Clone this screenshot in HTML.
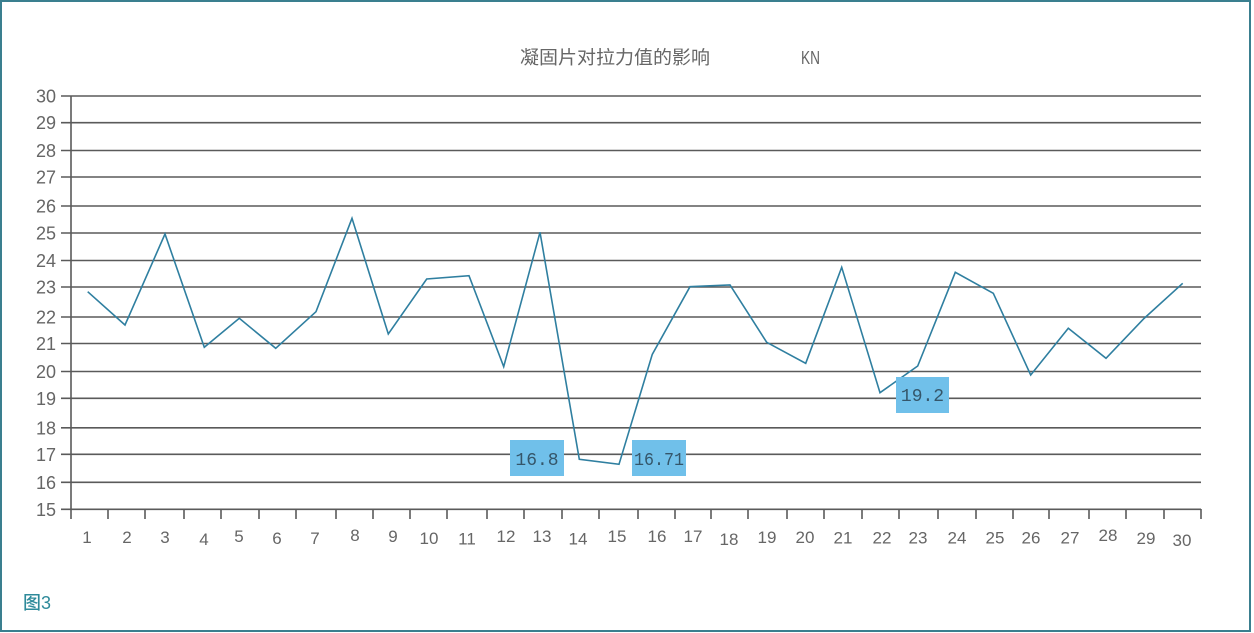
<!DOCTYPE html>
<html>
<head>
<meta charset="utf-8">
<style>
html,body{margin:0;padding:0;background:#fff;}
svg{display:block;}
</style>
</head>
<body>
<svg width="1254" height="633" viewBox="0 0 1254 633" xmlns="http://www.w3.org/2000/svg">
<rect x="0" y="0" width="1254" height="633" fill="#fff"/>
<rect x="1" y="1" width="1249" height="630" fill="none" stroke="#3a7f8f" stroke-width="2"/>

<!-- title -->
<text x="520" y="64" font-family="'Liberation Sans','Noto Sans CJK SC',sans-serif" font-size="18.5" fill="#666" textLength="190" lengthAdjust="spacingAndGlyphs">凝固片对拉力值的影响</text>
<text x="801" y="64" font-family="'Liberation Sans',sans-serif" font-size="18" fill="#666" textLength="19" lengthAdjust="spacingAndGlyphs">KN</text>

<!-- grid lines -->
<g stroke="#5a5a5a" stroke-width="1.6">
<line x1="61" y1="96" x2="1201" y2="96"/>
<line x1="61" y1="122.7" x2="1201" y2="122.7"/>
<line x1="61" y1="150.5" x2="1201" y2="150.5"/>
<line x1="61" y1="177" x2="1201" y2="177"/>
<line x1="61" y1="206" x2="1201" y2="206"/>
<line x1="61" y1="233" x2="1201" y2="233"/>
<line x1="61" y1="260.5" x2="1201" y2="260.5"/>
<line x1="61" y1="287" x2="1201" y2="287"/>
<line x1="61" y1="317" x2="1201" y2="317"/>
<line x1="61" y1="343.5" x2="1201" y2="343.5"/>
<line x1="61" y1="371.5" x2="1201" y2="371.5"/>
<line x1="61" y1="398.3" x2="1201" y2="398.3"/>
<line x1="61" y1="427.8" x2="1201" y2="427.8"/>
<line x1="61" y1="454.3" x2="1201" y2="454.3"/>
<line x1="61" y1="482.3" x2="1201" y2="482.3"/>
<line x1="61" y1="509.3" x2="1201" y2="509.3"/>
<line x1="71" y1="96" x2="71" y2="519"/>
</g>
<!-- x ticks -->
<g stroke="#5a5a5a" stroke-width="1.6">
<line x1="108" y1="509" x2="108" y2="519"/>
<line x1="145" y1="509" x2="145" y2="519"/>
<line x1="184" y1="509" x2="184" y2="519"/>
<line x1="221" y1="509" x2="221" y2="519"/>
<line x1="259" y1="509" x2="259" y2="519"/>
<line x1="296" y1="509" x2="296" y2="519"/>
<line x1="336" y1="509" x2="336" y2="519"/>
<line x1="373" y1="509" x2="373" y2="519"/>
<line x1="410" y1="509" x2="410" y2="519"/>
<line x1="447" y1="509" x2="447" y2="519"/>
<line x1="487" y1="509" x2="487" y2="519"/>
<line x1="524" y1="509" x2="524" y2="519"/>
<line x1="562" y1="509" x2="562" y2="519"/>
<line x1="599" y1="509" x2="599" y2="519"/>
<line x1="638" y1="509" x2="638" y2="519"/>
<line x1="675" y1="509" x2="675" y2="519"/>
<line x1="711" y1="509" x2="711" y2="519"/>
<line x1="748" y1="509" x2="748" y2="519"/>
<line x1="787" y1="509" x2="787" y2="519"/>
<line x1="824" y1="509" x2="824" y2="519"/>
<line x1="862" y1="509" x2="862" y2="519"/>
<line x1="899" y1="509" x2="899" y2="519"/>
<line x1="938" y1="509" x2="938" y2="519"/>
<line x1="976" y1="509" x2="976" y2="519"/>
<line x1="1013" y1="509" x2="1013" y2="519"/>
<line x1="1049" y1="509" x2="1049" y2="519"/>
<line x1="1089" y1="509" x2="1089" y2="519"/>
<line x1="1126" y1="509" x2="1126" y2="519"/>
<line x1="1164" y1="509" x2="1164" y2="519"/>
<line x1="1201" y1="509" x2="1201" y2="519"/>
</g>

<!-- y labels -->
<g font-family="'Liberation Sans',sans-serif" font-size="18" fill="#666" text-anchor="end">
<text x="56" y="102.5">30</text>
<text x="56" y="129.2">29</text>
<text x="56" y="157">28</text>
<text x="56" y="183.5">27</text>
<text x="56" y="212.5">26</text>
<text x="56" y="239.5">25</text>
<text x="56" y="267">24</text>
<text x="56" y="293.5">23</text>
<text x="56" y="323.5">22</text>
<text x="56" y="350">21</text>
<text x="56" y="378">20</text>
<text x="56" y="404.8">19</text>
<text x="56" y="434.3">18</text>
<text x="56" y="460.8">17</text>
<text x="56" y="488.8">16</text>
<text x="56" y="515.8">15</text>
</g>

<!-- x labels -->
<g font-family="'Liberation Sans',sans-serif" font-size="17" fill="#666" text-anchor="middle">
<text x="87" y="543">1</text>
<text x="127" y="543">2</text>
<text x="165" y="543">3</text>
<text x="204" y="545">4</text>
<text x="239" y="542">5</text>
<text x="277" y="544">6</text>
<text x="315" y="544">7</text>
<text x="355" y="541">8</text>
<text x="393" y="542">9</text>
<text x="429" y="544">10</text>
<text x="467" y="544.5">11</text>
<text x="506" y="542">12</text>
<text x="542" y="542">13</text>
<text x="578" y="544.5">14</text>
<text x="617" y="542">15</text>
<text x="657" y="542">16</text>
<text x="693" y="542">17</text>
<text x="729" y="545">18</text>
<text x="767" y="543">19</text>
<text x="805" y="543">20</text>
<text x="843" y="543.5">21</text>
<text x="882" y="543.5">22</text>
<text x="918" y="543.5">23</text>
<text x="957" y="543.5">24</text>
<text x="995" y="543.5">25</text>
<text x="1031" y="543.5">26</text>
<text x="1070" y="543.5">27</text>
<text x="1108" y="541">28</text>
<text x="1146" y="544">29</text>
<text x="1182" y="546">30</text>
</g>

<!-- data line -->
<polyline fill="none" stroke="#2f7fa0" stroke-width="1.6" stroke-linejoin="miter" points="
87.7,291.7 125,325 165,234 204.3,347.3 239.3,318.3 275.7,348.3 316,311.7 352,218.3 388.3,334 426.7,279 469,275.7 503.7,366.7 540,232.3 579.3,459.3 619,464.3 652.3,354.3 690,286.7 730,285 766.7,342.3 805.7,363.3 841.7,267.3 880,392.7 917.7,366 955.3,272.3 993.3,293.3 1030.7,375 1068.3,328.3 1106,358.3 1144,318.5 1182.7,283.3"/>

<!-- data labels -->
<rect x="510" y="440" width="54" height="36" fill="#70c0ea"/>
<text x="537" y="465" font-family="'Liberation Mono',monospace" font-size="18" fill="#35566a" text-anchor="middle">16.8</text>
<rect x="632" y="440" width="54" height="36" fill="#70c0ea"/>
<text x="659" y="465" font-family="'Liberation Mono',monospace" font-size="18" fill="#35566a" text-anchor="middle" textLength="50" lengthAdjust="spacingAndGlyphs">16.71</text>
<rect x="896" y="377" width="53" height="36" fill="#70c0ea"/>
<text x="922.5" y="401" font-family="'Liberation Mono',monospace" font-size="18" fill="#35566a" text-anchor="middle">19.2</text>

<!-- figure caption -->
<text x="23" y="609" font-family="'Liberation Sans','Noto Sans CJK SC',sans-serif" font-size="18" font-weight="500" fill="#2e8a9a">图3</text>
</svg>
</body>
</html>
